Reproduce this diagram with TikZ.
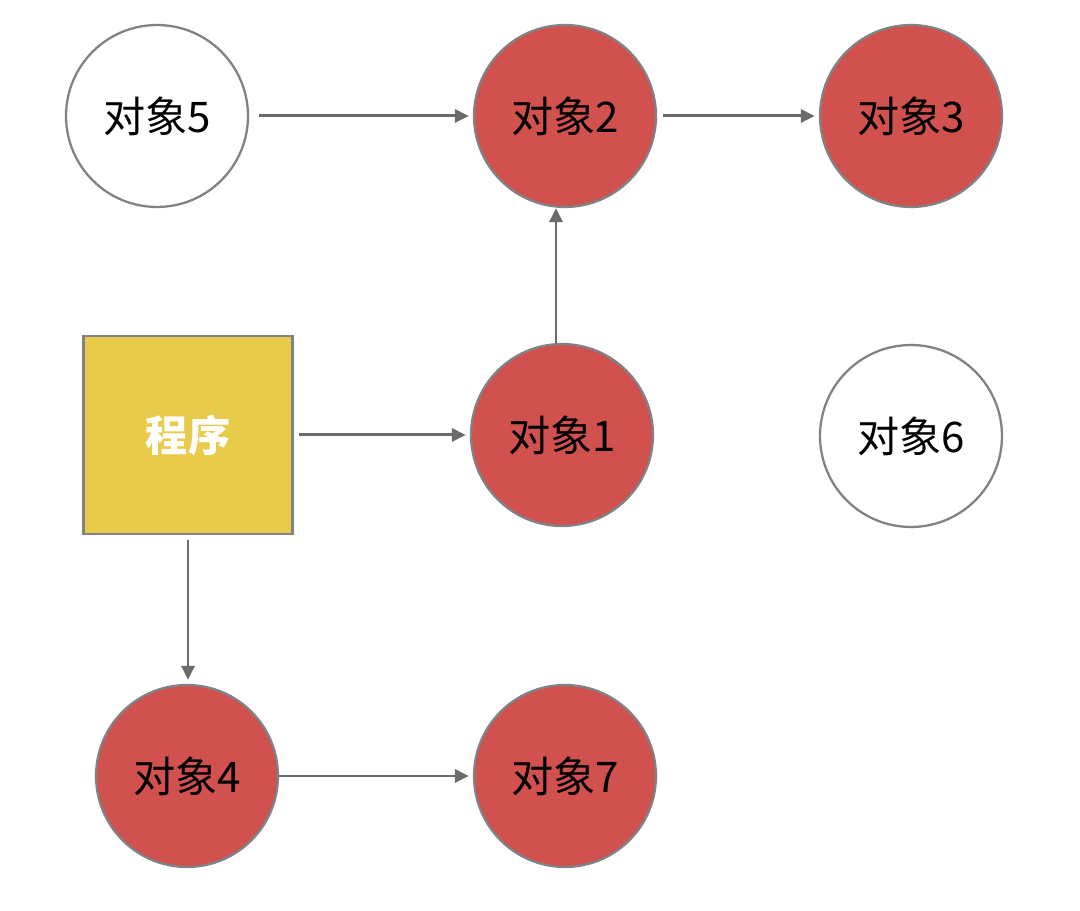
\documentclass[tikz,border=0pt]{standalone}
\usepackage{fontspec}
\setmainfont{Noto Sans CJK SC}
\usetikzlibrary{positioning, arrows.meta}
\definecolor{objred}{HTML}{D0514D}
\definecolor{progyellow}{HTML}{E9CB4C}
\definecolor{rimgray}{HTML}{808285}
\definecolor{linkgray}{HTML}{6B6B6B}

\begin{document}
\begin{tikzpicture}[x=0.02cm, y=-0.02cm,
    font=\fontsize{24}{28}\selectfont,
    obj/.style={circle, draw=rimgray, line width=1.3pt, fill=objred,
                minimum size=3.64cm, inner sep=0pt},
    freeobj/.style={obj, fill=white},
    prog/.style={rectangle, draw=rimgray, line width=1.5pt, fill=progyellow,
                 minimum width=4.18cm, minimum height=3.96cm, text=white},
    link/.style={-{Triangle[length=0.28cm, width=0.26cm]}, line width=1.7pt,
                 color=linkgray, shorten >=0.08cm}]
    \useasboundingbox (0,0) rectangle (1080,911);
    \node[freeobj] (n5) at (157,116) {对象5};
    \node[obj] (n2) at (565,116) {对象2};
    \node[obj] (n3) at (911,116) {对象3};
    \node[prog] (p) at (188,435) {\textbf{程序}};
    \node[obj] (n1) at (562,435) {对象1};
    \node[freeobj] (n6) at (911,436) {对象6};
    \node[obj] (n4) at (187,776) {对象4};
    \node[obj] (n7) at (565,776) {对象7};
    \foreach \s/\t/\g in {n5/n2/0.2cm, n2/n3/0.12cm, p/n1/0.1cm, n4/n7/0cm}
      \draw[link, shorten <=\g] (\s) -- (\t);
    \draw[link, shorten <=0.1cm] (p.south) -- (n4.north -| p.south);
    \draw[link, shorten >=0pt] ([xshift=-0.12cm]n1.north) -- ([xshift=-0.12cm]n1.north |- n2.south);
  \end{tikzpicture}
\end{document}
